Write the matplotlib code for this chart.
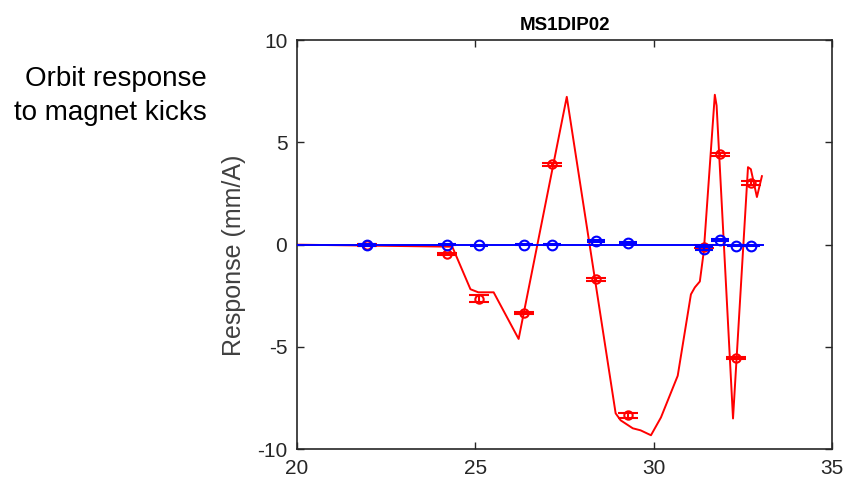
import numpy as np
import matplotlib.pyplot as plt

plt.rcParams['font.family'] = ['Liberation Sans', 'DejaVu Sans']
plt.rcParams['axes.unicode_minus'] = False

# modelled orbit response along the ring (s position, response in mm/A)
model_s = [20.0, 24.35, 24.86, 25.08, 25.51, 26.21, 27.56, 28.93, 29.07, 29.41,
           29.63, 29.92, 30.20, 30.67, 31.04, 31.15, 31.29, 31.40, 31.71, 31.76,
           32.22, 32.64, 32.72, 32.89, 33.03]
model_red = [0.0, -0.1, -2.18, -2.33, -2.33, -4.61, 7.23, -8.25, -8.59, -8.98,
             -9.08, -9.32, -8.45, -6.41, -2.43, -2.09, -1.80, -0.34, 7.33, 6.8,
             -8.50, 3.79, 3.69, 2.33, 3.35]
model_blue_s = [20.0, 33.05]
model_blue = [0.0, 0.0]

# measured BPM responses with error bars
bpm_s = [21.97, 24.2, 25.1, 26.37, 27.15, 28.37, 29.27, 31.4, 31.85, 32.29, 32.72]
meas_red = [0.0, -0.47, -2.65, -3.35, 3.93, -1.70, -8.35, -0.1, 4.42, -5.53, 3.01]
err_red = [0.05, 0.06, 0.17, 0.06, 0.08, 0.06, 0.12, 0.06, 0.06, 0.06, 0.1]
meas_blue = [0.0, 0.0, -0.03, 0.0, 0.0, 0.2, 0.1, -0.2, 0.25, -0.05, -0.05]
err_blue = [0.05, 0.03, 0.03, 0.03, 0.03, 0.05, 0.05, 0.08, 0.05, 0.03, 0.03]

fig = plt.figure(figsize=(8.44, 4.84), dpi=100)
ax = fig.add_axes([0.352, 0.072, 0.634, 0.845])

ax.plot(model_s, model_red, color='#ff0000', lw=1.4, zorder=2)
ax.errorbar(bpm_s, meas_red, yerr=err_red, fmt='o', color='#ff0000', mfc='none',
            ms=6, mew=1.5, elinewidth=1.5, capsize=7.5, capthick=2.4, zorder=3)
ax.plot(model_blue_s, model_blue, color='#0000ff', lw=1.4, zorder=4)
ax.errorbar(bpm_s, meas_blue, yerr=err_blue, fmt='o', color='#0000ff', mfc='none',
            ms=7, mew=1.5, elinewidth=1.5, capsize=6.5, capthick=2.4, zorder=5)

ax.set_xlim(20, 35)
ax.set_ylim(-10, 10)
ax.set_xticks([20, 25, 30, 35])
ax.set_yticks([-10, -5, 0, 5, 10])
ax.tick_params(direction='in', length=5, width=1, top=True, right=True,
               labelsize=15, colors='#262626', pad=7)
for sp in ax.spines.values():
    sp.set_color('#262626')
    sp.set_linewidth(1.2)

ax.set_ylabel('Response (mm/A)', fontsize=18, color='#404040')
ax.yaxis.set_label_coords(-0.095, 0.474)
ax.set_title('MS1DIP02', fontsize=13.5, fontweight='bold', pad=7)

fig.text(207 / 844, 1 - 96 / 484, 'Orbit response\nto magnet kicks', fontsize=20,
         ha='right', va='center', linespacing=1.4)

fig.savefig('out.png', dpi=100)
